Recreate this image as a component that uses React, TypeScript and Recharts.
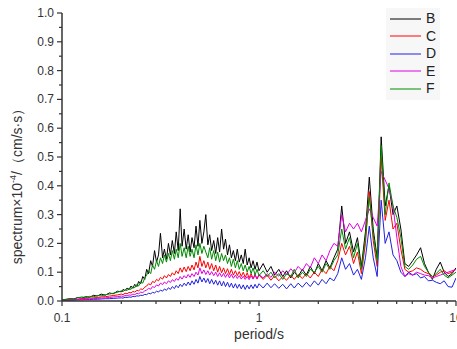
import { LineChart, Line, XAxis, YAxis, Label } from 'recharts';

// period grid (s), log-spaced, finer through the dense 0.2–1 s band
const periods = [
  0.100, 0.105, 0.110, 0.115, 0.120, 0.126, 0.132, 0.138, 0.145, 0.151, 0.158, 0.166, 0.174, 0.182, 0.191,
  0.200, 0.204, 0.209, 0.214, 0.219, 0.224, 0.229, 0.234, 0.240, 0.245,
  0.251, 0.257, 0.263, 0.269, 0.275, 0.282, 0.288, 0.295, 0.302, 0.309,
  0.316, 0.324, 0.331, 0.339, 0.347, 0.355, 0.363, 0.372, 0.380, 0.389,
  0.398, 0.407, 0.417, 0.427, 0.437, 0.447, 0.457, 0.468, 0.479, 0.490,
  0.501, 0.513, 0.525, 0.537, 0.550, 0.562, 0.575, 0.589, 0.603, 0.617,
  0.631, 0.646, 0.661, 0.676, 0.692, 0.708, 0.724, 0.741, 0.759, 0.776,
  0.794, 0.813, 0.832, 0.851, 0.871, 0.891, 0.912, 0.933, 0.955, 0.977,
  1.000,
  1.05, 1.10, 1.15, 1.20, 1.26, 1.32, 1.38, 1.45, 1.51, 1.58,
  1.66, 1.74, 1.82, 1.91, 2.00, 2.09, 2.19, 2.29, 2.40, 2.51,
  2.63, 2.75, 2.88, 3.02, 3.16, 3.31, 3.47, 3.63, 3.80, 3.98,
  4.17, 4.37, 4.57, 4.79, 5.01, 5.25, 5.50, 5.75, 6.03, 6.31,
  6.61, 6.92, 7.24, 7.59, 7.94, 8.32, 8.71, 9.12, 9.55, 10.0,
];

const seriesB = [
  0.004, 0.006, 0.008, 0.007, 0.012, 0.010, 0.015, 0.013, 0.020, 0.017, 0.024, 0.020, 0.028, 0.025, 0.034,
  0.032, 0.040, 0.036, 0.045, 0.039, 0.052, 0.044, 0.058, 0.050, 0.068,
  0.060, 0.085, 0.075, 0.110, 0.095, 0.140, 0.120, 0.175, 0.135, 0.160,
  0.235, 0.150, 0.180, 0.145, 0.200, 0.160, 0.210, 0.165, 0.240, 0.175,
  0.320, 0.190, 0.250, 0.180, 0.230, 0.170, 0.220, 0.185, 0.260, 0.190,
  0.280, 0.200, 0.240, 0.300, 0.195, 0.230, 0.175, 0.210, 0.165, 0.220,
  0.170, 0.250, 0.180, 0.215, 0.160, 0.195, 0.150, 0.175, 0.140, 0.180,
  0.135, 0.160, 0.130, 0.180, 0.125, 0.150, 0.115, 0.140, 0.110, 0.135,
  0.105,
  0.130, 0.100, 0.120, 0.090, 0.110, 0.085, 0.105, 0.080, 0.100, 0.085,
  0.110, 0.090, 0.120, 0.095, 0.130, 0.105, 0.140, 0.115, 0.150, 0.180,
  0.330, 0.200, 0.240, 0.170, 0.220, 0.120, 0.240, 0.430, 0.250, 0.150,
  0.570, 0.330, 0.400, 0.300, 0.330, 0.250, 0.130, 0.120, 0.140, 0.160,
  0.185, 0.130, 0.100, 0.075, 0.110, 0.135, 0.100, 0.085, 0.095, 0.115,
];

const seriesC = [
  0.003, 0.004, 0.005, 0.006, 0.006, 0.008, 0.009, 0.010, 0.011, 0.012, 0.014, 0.015, 0.017, 0.019, 0.021,
  0.024, 0.022, 0.027, 0.025, 0.030, 0.028, 0.033, 0.031, 0.037, 0.035,
  0.042, 0.040, 0.048, 0.052, 0.060, 0.056, 0.068, 0.064, 0.075, 0.070,
  0.082, 0.076, 0.088, 0.080, 0.092, 0.085, 0.098, 0.090, 0.105, 0.095,
  0.115, 0.100, 0.118, 0.102, 0.120, 0.105, 0.125, 0.108, 0.135, 0.115,
  0.155, 0.120, 0.140, 0.115, 0.135, 0.110, 0.130, 0.105, 0.125, 0.100,
  0.120, 0.098, 0.115, 0.095, 0.112, 0.092, 0.110, 0.090, 0.105, 0.088,
  0.102, 0.085, 0.100, 0.082, 0.098, 0.080, 0.095, 0.078, 0.092, 0.076,
  0.090,
  0.075, 0.090, 0.072, 0.088, 0.070, 0.085, 0.072, 0.090, 0.075, 0.092,
  0.078, 0.095, 0.080, 0.100, 0.085, 0.110, 0.095, 0.120, 0.105, 0.140,
  0.200, 0.160, 0.190, 0.130, 0.170, 0.095, 0.200, 0.380, 0.210, 0.120,
  0.500, 0.280, 0.350, 0.250, 0.270, 0.180, 0.110, 0.100, 0.105, 0.115,
  0.110, 0.100, 0.095, 0.085, 0.090, 0.100, 0.105, 0.095, 0.100, 0.110,
];

const seriesD = [
  0.002, 0.002, 0.003, 0.003, 0.004, 0.004, 0.005, 0.005, 0.006, 0.006, 0.007, 0.008, 0.008, 0.009, 0.010,
  0.011, 0.010, 0.013, 0.012, 0.014, 0.013, 0.016, 0.015, 0.018, 0.017,
  0.020, 0.019, 0.023, 0.022, 0.027, 0.025, 0.030, 0.028, 0.034, 0.031,
  0.038, 0.034, 0.042, 0.037, 0.046, 0.040, 0.050, 0.043, 0.054, 0.046,
  0.058, 0.050, 0.062, 0.053, 0.066, 0.055, 0.070, 0.058, 0.075, 0.062,
  0.085, 0.066, 0.080, 0.064, 0.078, 0.060, 0.075, 0.058, 0.072, 0.055,
  0.070, 0.052, 0.068, 0.050, 0.065, 0.048, 0.062, 0.045, 0.060, 0.044,
  0.058, 0.042, 0.056, 0.040, 0.055, 0.042, 0.056, 0.043, 0.058, 0.045,
  0.060,
  0.045, 0.062, 0.046, 0.060, 0.044, 0.058, 0.042, 0.060, 0.045, 0.062,
  0.048, 0.065, 0.050, 0.070, 0.055, 0.075, 0.060, 0.080, 0.070, 0.095,
  0.150, 0.110, 0.130, 0.090, 0.110, 0.075, 0.150, 0.260, 0.150, 0.085,
  0.350, 0.200, 0.240, 0.160, 0.140, 0.100, 0.085, 0.100, 0.090, 0.095,
  0.080, 0.085, 0.070, 0.072, 0.065, 0.060, 0.070, 0.050, 0.048, 0.080,
];

const seriesE = [
  0.002, 0.003, 0.004, 0.004, 0.005, 0.006, 0.006, 0.007, 0.008, 0.009, 0.010, 0.011, 0.012, 0.014, 0.015,
  0.017, 0.016, 0.019, 0.018, 0.021, 0.020, 0.024, 0.022, 0.027, 0.025,
  0.031, 0.029, 0.035, 0.038, 0.044, 0.041, 0.050, 0.047, 0.056, 0.052,
  0.062, 0.057, 0.066, 0.060, 0.070, 0.064, 0.074, 0.068, 0.078, 0.072,
  0.085, 0.076, 0.088, 0.080, 0.092, 0.082, 0.095, 0.085, 0.100, 0.090,
  0.115, 0.095, 0.108, 0.092, 0.105, 0.090, 0.102, 0.088, 0.100, 0.085,
  0.098, 0.084, 0.096, 0.082, 0.095, 0.080, 0.093, 0.079, 0.090, 0.078,
  0.088, 0.076, 0.086, 0.075, 0.085, 0.074, 0.088, 0.076, 0.090, 0.078,
  0.092,
  0.080, 0.095, 0.082, 0.100, 0.086, 0.105, 0.090, 0.112, 0.098, 0.120,
  0.105, 0.130, 0.115, 0.150, 0.130, 0.160, 0.140, 0.175, 0.200, 0.190,
  0.300, 0.240, 0.270, 0.250, 0.270, 0.240, 0.280, 0.320, 0.290, 0.260,
  0.450, 0.420, 0.390, 0.330, 0.220, 0.120, 0.085, 0.095, 0.090, 0.100,
  0.095, 0.090, 0.088, 0.080, 0.085, 0.090, 0.095, 0.100, 0.105, 0.110,
];

const seriesF = [
  0.005, 0.004, 0.009, 0.006, 0.011, 0.014, 0.012, 0.016, 0.015, 0.019, 0.018, 0.022, 0.024, 0.027, 0.030,
  0.035, 0.032, 0.040, 0.036, 0.045, 0.040, 0.050, 0.046, 0.058, 0.052,
  0.068, 0.062, 0.080, 0.090, 0.105, 0.095, 0.125, 0.110, 0.140, 0.120,
  0.150, 0.130, 0.160, 0.135, 0.165, 0.140, 0.175, 0.145, 0.180, 0.150,
  0.200, 0.155, 0.185, 0.150, 0.190, 0.155, 0.180, 0.150, 0.195, 0.160,
  0.200, 0.165, 0.190, 0.170, 0.150, 0.185, 0.145, 0.175, 0.140, 0.170,
  0.135, 0.165, 0.140, 0.160, 0.130, 0.150, 0.120, 0.145, 0.115, 0.140,
  0.110, 0.130, 0.105, 0.125, 0.100, 0.120, 0.095, 0.115, 0.090, 0.110,
  0.088,
  0.105, 0.085, 0.100, 0.080, 0.095, 0.075, 0.095, 0.085, 0.110, 0.080,
  0.100, 0.085, 0.110, 0.100, 0.120, 0.100, 0.130, 0.110, 0.140, 0.160,
  0.250, 0.180, 0.220, 0.150, 0.200, 0.110, 0.220, 0.360, 0.230, 0.140,
  0.540, 0.300, 0.410, 0.330, 0.290, 0.220, 0.120, 0.110, 0.125, 0.145,
  0.155, 0.120, 0.100, 0.085, 0.095, 0.110, 0.090, 0.080, 0.090, 0.100,
];

const xTicks = [0.1, 0.2, 0.3, 0.4, 0.5, 0.6, 0.7, 0.8, 0.9, 1, 2, 3, 4, 5, 6, 7, 8, 9, 10];
const xMajor = [0.1, 1, 10];
const yTicks = [
  0, 0.05, 0.1, 0.15, 0.2, 0.25, 0.3, 0.35, 0.4, 0.45, 0.5,
  0.55, 0.6, 0.65, 0.7, 0.75, 0.8, 0.85, 0.9, 0.95, 1.0,
];

const series = [
  { key: 'B', color: '#000000' },
  { key: 'C', color: '#ff0000' },
  { key: 'D', color: '#2020e0' },
  { key: 'E', color: '#e000e0' },
  { key: 'F', color: '#008a00' },
];

const data = periods.map((p, i) => ({
  period: p,
  B: seriesB[i],
  C: seriesC[i],
  D: seriesD[i],
  E: seriesE[i],
  F: seriesF[i],
}));

const FONT = '"Liberation Sans", Arial, sans-serif';
const AXIS = '#333';

function XTick({ x, y, payload }: any) {
  const v = payload.value;
  const major = xMajor.some((m) => Math.abs(m - v) < 1e-9);
  return (
    <g>
      <line x1={x} x2={x} y1={y} y2={y + (major ? 5 : 3)} stroke={AXIS} strokeWidth={1.2} />
      {major && (
        <text x={x} y={y + 21} textAnchor="middle" fontSize={12} fill="#333" fontFamily={FONT}>
          {String(v)}
        </text>
      )}
    </g>
  );
}

function YTick({ x, y, payload }: any) {
  const v = payload.value;
  const major = Math.abs(v * 10 - Math.round(v * 10)) < 1e-6;
  return (
    <g>
      <line x1={x - (major ? 5 : 3)} x2={x} y1={y} y2={y} stroke={AXIS} strokeWidth={1.2} />
      {major && (
        <text x={x - 8} y={y + 4} textAnchor="end" fontSize={12} fill="#333" fontFamily={FONT}>
          {v.toFixed(1)}
        </text>
      )}
    </g>
  );
}

export default function App() {
  return (
    <div style={{ position: 'absolute', left: 0, top: 0, width: 457, height: 349, background: '#fff' }}>
      <LineChart width={457} height={349} data={data} margin={{ top: 13, right: 1, left: 0, bottom: 0 }}>
        <XAxis
          dataKey="period"
          type="number"
          scale="log"
          domain={[0.1, 10]}
          ticks={xTicks}
          interval={0}
          allowDataOverflow
          height={48}
          tickSize={0}
          tickMargin={0}
          tick={<XTick />}
          axisLine={{ stroke: AXIS, strokeWidth: 1.5 }}
        >
          <Label
            content={() => (
              <text x={259} y={339} textAnchor="middle" fontSize={14} fill="#333" fontFamily={FONT}>
                period/s
              </text>
            )}
          />
        </XAxis>
        <YAxis
          type="number"
          domain={[0, 1]}
          ticks={yTicks}
          interval={0}
          width={62}
          tickSize={0}
          tickMargin={0}
          tick={<YTick />}
          axisLine={{ stroke: AXIS, strokeWidth: 1.5 }}
        >
          <Label
            content={() => (
              <text
                x={22}
                y={183}
                transform="rotate(-90 22 183)"
                textAnchor="middle"
                fontSize={14}
                fill="#333"
                fontFamily={FONT}
              >
                spectrum×10
                <tspan fontSize={9} dy={-6}>-4</tspan>
                <tspan dy={6}>/（cm/s·s）</tspan>
              </text>
            )}
          />
        </YAxis>
        {series.map((s) => (
          <Line
            key={s.key}
            type="linear"
            dataKey={s.key}
            stroke={s.color}
            strokeWidth={1}
            dot={false}
            isAnimationActive={false}
          />
        ))}
      </LineChart>
      <div
        style={{
          position: 'absolute',
          left: 386,
          top: 8,
          padding: '2px 4px',
          background: '#f7f7f7',
          fontFamily: FONT,
        }}
      >
        {series.map((s) => (
          <div key={s.key} style={{ display: 'flex', alignItems: 'center', height: 17.5 }}>
            <svg width={31} height={4}>
              <line x1={0} x2={31} y1={2} y2={2} stroke={s.color} strokeWidth={1} />
            </svg>
            <span style={{ marginLeft: 5, fontSize: 14, color: '#222', lineHeight: '17.5px' }}>{s.key}</span>
          </div>
        ))}
      </div>
    </div>
  );
}
